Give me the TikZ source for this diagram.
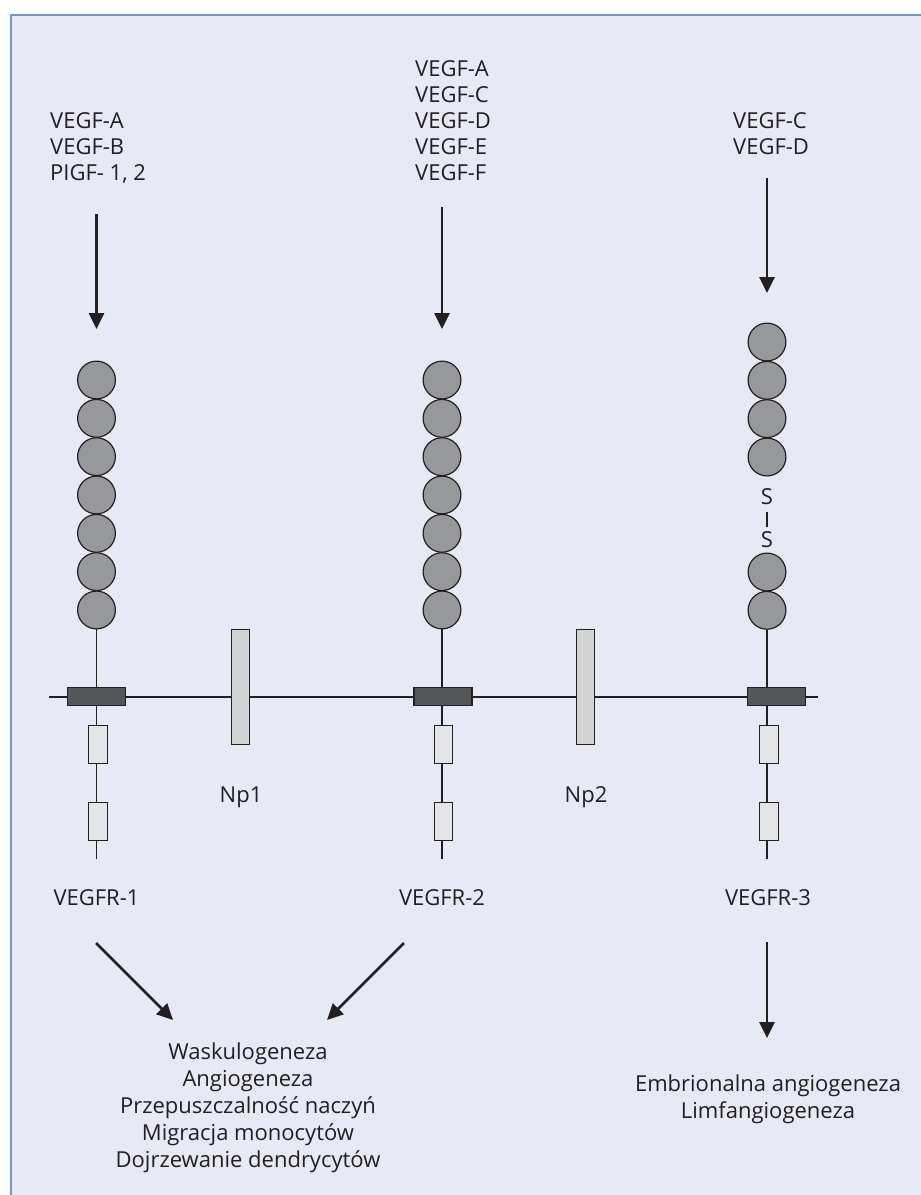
\documentclass[tikz,border=0pt]{standalone}
\usepackage{fontspec}
\setmainfont{Open Sans}
\usetikzlibrary{arrows.meta}
\definecolor{bgc}{HTML}{E7E9F5}
\definecolor{framec}{HTML}{6A9AD6}
\definecolor{ink}{HTML}{231F20}
\definecolor{ballc}{HTML}{97989C}
\definecolor{tmc}{HTML}{555658}
\definecolor{kinc}{HTML}{E4E5E8}
\definecolor{npc}{HTML}{D2D3D5}
\tikzset{
  ball/.style={circle, draw=ink, fill=ballc, line width=1.2pt, minimum size=37.8pt, inner sep=0pt},
  tmbox/.style={rectangle, draw=ink, fill=tmc, line width=1.2pt, minimum width=58pt, minimum height=18.5pt, inner sep=0pt},
  kinbox/.style={rectangle, draw=ink, fill=kinc, line width=1.2pt, minimum width=18.5pt, minimum height=38.5pt, inner sep=0pt},
  npbox/.style={rectangle, draw=ink, fill=npc, line width=1.2pt, minimum width=18.5pt, minimum height=115pt, inner sep=0pt},
  lbl/.style={font=\fontsize{22}{26}\selectfont, text=ink, inner sep=0pt},
  outlbl/.style={font=\fontsize{22}{26.8}\selectfont, text=ink, inner sep=0pt, align=center, anchor=north},
  sig/.style={-{Triangle[width=15pt,length=16pt]}, line width=2.8pt, draw=ink},
  thin/.style={draw=ink, line width=1.2pt}
}
\begin{document}
\begin{tikzpicture}[x=1pt,y=-1pt]
\useasboundingbox (0,0) rectangle (921,1195);
% background panel
\fill[bgc] (11,15) rectangle (930,1205);
\draw[framec, line width=2pt] (11,1205) -- (11,15) -- (930,15);

% ligand labels
\node[lbl, anchor=north west, align=left] (lig1) at (50,112.5) {VEGF-A\\VEGF-B\\PIGF- 1, 2};
\node[lbl, anchor=north west, align=left] (lig2) at (415,60.5) {VEGF-A\\VEGF-C\\VEGF-D\\VEGF-E\\VEGF-F};
\node[lbl, anchor=north west, align=left] (lig3) at (733,112.5) {VEGF-C\\VEGF-D};

% binding arrows
\coordinate (s1) at (96.5,214);
\coordinate (e1) at (96.5,329);
\coordinate (s2) at (442,207);
\coordinate (e2) at (442,329);
\coordinate (s3) at (767,178);
\coordinate (e3) at (767,293);
\draw[sig] (s1) -- (e1);
\draw[sig] (s2) -- (e2);
\draw[sig] (s3) -- (e3);

% membrane
\coordinate (mL) at (49,697);
\coordinate (mR) at (818,697);
\draw[thin] (mL) -- (mR);

% receptor 1
\foreach \i in {0,...,6} \node[ball] (a\i) at (96.5,{380+38.33*\i}) {};
\node[tmbox] (t1) at (96.5,696.5) {};
\node[kinbox] (k1a) at (98,744.5) {};
\node[kinbox] (k1b) at (98,821.5) {};
\coordinate (end1) at (96.5,859);
\draw[thin] (a6.south) -- (a6.south |- t1.north);
\draw[thin] (96.5,706) -- (96.5,725);
\draw[thin] (96.5,764) -- (96.5,802);
\draw[thin] (96.5,841) -- (end1);

% receptor 2
\foreach \i in {0,...,6} \node[ball] (b\i) at (442,{380+38.33*\i}) {};
\node[tmbox] (t2) at (443,696.5) {};
\node[kinbox] (k2a) at (443.5,744.5) {};
\node[kinbox] (k2b) at (443.5,821.5) {};
\coordinate (end2) at (442,859);
\draw[thin] (b6.south) -- (b6.south |- t2.north);
\draw[thin] (442,706) -- (442,725);
\draw[thin] (442,764) -- (442,802);
\draw[thin] (442,841) -- (end2);

% receptor 3
\foreach \i/\y in {0/342,1/380.3,2/418.6,3/457} \node[ball] (c\i) at (767,\y) {};
\node[lbl] (sa) at (767,497) {S};
\node[lbl] (sb) at (767,540) {S};
\draw[thin, shorten <=7pt, shorten >=5pt] (sa.south) -- (sb.north);
\node[ball] (c4) at (767,572) {};
\node[ball] (c5) at (767,610.3) {};
\node[tmbox] (t3) at (776.5,696.5) {};
\node[kinbox] (k3a) at (769,744.5) {};
\node[kinbox] (k3b) at (769,821.5) {};
\coordinate (end3) at (767,859);
\draw[thin] (c5.south) -- (c5.south |- t3.north);
\draw[thin] (767,706) -- (767,725);
\draw[thin] (767,764) -- (767,802);
\draw[thin] (767,841) -- (end3);

% neuropilins
\node[npbox] (np1) at (240.5,687) {};
\node[npbox] (np2) at (585.5,687) {};
\node[lbl, anchor=base] (np1l) at (241,802) {Np1};
\node[lbl, anchor=base] (np2l) at (586,802) {Np2};

% receptor names
\node[lbl, anchor=base] (r1) at (96.5,905.5) {VEGFR-1};
\node[lbl, anchor=base] (r2) at (442,905.5) {VEGFR-2};
\node[lbl, anchor=base] (r3) at (768,905.5) {VEGFR-3};

% outcomes
\node[outlbl] (out1) at (248,1043) {Waskulogeneza\\Angiogeneza\\Przepuszczalność naczyń\\Migracja monocytów\\Dojrzewanie dendrycytów};
\node[outlbl] (out2) at (768,1075) {Embrionalna angiogeneza\\Limfangiogeneza};

\coordinate (f1s) at (96,943);
\coordinate (f1e) at (173,1020);
\coordinate (f2s) at (404,943);
\coordinate (f2e) at (327,1020);
\coordinate (f3s) at (767,942);
\coordinate (f3e) at (767,1038);
\draw[sig] (f1s) -- (f1e);
\draw[sig] (f2s) -- (f2e);
\draw[sig] (f3s) -- (f3e);
\end{tikzpicture}
\end{document}
